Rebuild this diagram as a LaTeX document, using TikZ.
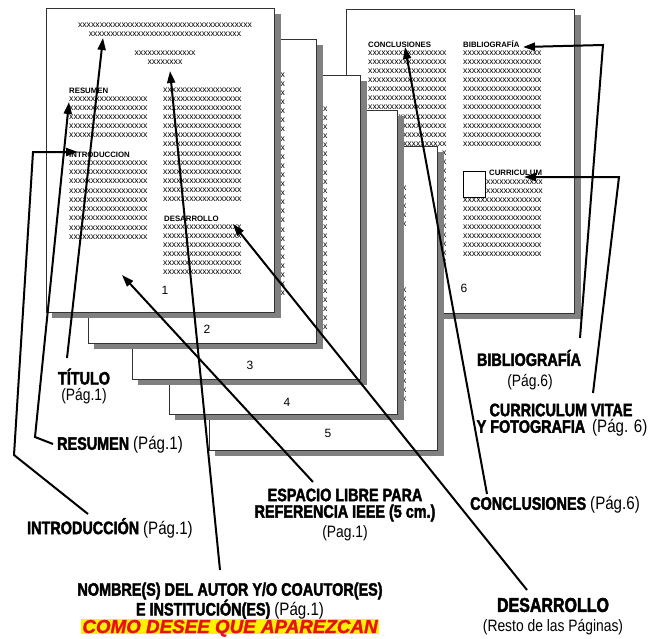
\documentclass[tikz,border=0pt]{standalone}
\usepackage{fontspec}
\setmainfont{Liberation Sans}
\newfontfamily\condfont[FakeStretch=0.8,BoldFeatures={FakeBold=2.2}]{Liberation Sans}
\newfontfamily\regfont[FakeStretch=0.84]{Liberation Sans}
\newfontfamily\comofont[BoldItalicFeatures={FakeBold=1.5}]{Liberation Sans}
\usetikzlibrary{arrows.meta}
\def\xs#1{\ifnum#1>0 x\expandafter\xs\expandafter{\the\numexpr#1-1\relax}\fi}
\definecolor{labred}{HTML}{E8101A}
\newcommand\pg[1]{{\regfont\mdseries #1}}
\begin{document}
\begin{tikzpicture}[x=1pt,y=-1pt,
  pagebox/.style={draw=black!80,line width=0.8pt,fill=white,minimum width=228pt,minimum height=304pt,anchor=north west,inner sep=0pt,outer sep=0pt},
  pshade/.style={fill=black!50,draw=none},
  xt/.style={font=\fontsize{8.7}{9}\selectfont,inner sep=0pt,anchor=west},
  xtc/.style={font=\fontsize{8.7}{9}\selectfont,inner sep=0pt},
  hd/.style={font=\fontsize{7.8}{9}\selectfont\bfseries,inner sep=0pt,anchor=base west},
  pnum/.style={font=\fontsize{12}{14}\selectfont,inner sep=0pt},
  lbl/.style={font=\condfont\fontsize{18}{20}\selectfont\bfseries,inner sep=0pt},
  lreg/.style={font=\regfont\fontsize{16.5}{18}\selectfont,inner sep=0pt},
  arr/.style={line width=2pt,-{Triangle[length=12pt,width=8pt]}},
]
\fill[white] (0,0) rectangle (655,638);
\useasboundingbox (0,0) rectangle (655,638);

% ---------- page 6 ----------
\fill[pshade] (352,15) rectangle (581,319);
\node[pagebox] (p6) at (346,9) {};
\node[hd] (h6a) at (368,47) {CONCLUSIONES};
\node[hd] (h6b) at (463,47) {BIBLIOGRAFÍA};
\foreach \i in {0,...,10} \node[xt] (cc\i) at (368,{53+9.1*\i}) {\xs{18}};
\foreach \i in {11,...,23} \node[xt] (cc\i) at (441.9,{53+9.1*\i}) {x};
\foreach \i in {0,...,10} \node[xt] (bb\i) at (463,{53+9.1*\i}) {\xs{18}};
\node[draw=black,line width=0.8pt,fill=white,minimum width=22pt,minimum height=26pt,inner sep=0pt,anchor=north west] (photo) at (463,171) {};
\node[hd] (h6c) at (489,175) {CURRICULUM};
\foreach \i in {0,1} \node[xt] (cs\i) at (486,{182+9.1*\i}) {\xs{13}};
\foreach \i in {0,...,6} \node[xt] (cv\i) at (463,{200+9.1*\i}) {\xs{18}};
\node[pnum] (n6) at (464,288) {6};

% ---------- page 5 ----------
\fill[pshade] (215,152) rectangle (444,456);
\node[pagebox] (p5) at (209,146) {};
\foreach \i in {0,...,4} \node[xt] (c5a\i) at (402,{188+9.1*\i}) {x};
\foreach \i in {0,...,12} \node[xt] (c5b\i) at (402,{290+9.1*\i}) {x};
\node[pnum] (n5) at (328,433) {5};

% ---------- page 4 ----------
\fill[pshade] (175,116) rectangle (404,420);
\node[pagebox] (p4) at (169,110) {};
\foreach \i in {0,...,26} \node[xt] (c4\i) at (361,{130+9.1*\i}) {x};
\node[pnum] (n4) at (287,402) {4};

% ---------- page 3 ----------
\fill[pshade] (138,81) rectangle (367,385);
\node[pagebox] (p3) at (132,75) {};
\foreach \i in {0,...,24} \node[xt] (c3\i) at (323,{109+9.1*\i}) {x};
\node[pnum] (n3) at (250,365) {3};

% ---------- page 2 ----------
\fill[pshade] (94,45) rectangle (323,349);
\node[pagebox] (p2) at (88,39) {};
\foreach \i in {0,...,24} \node[xt] (c2\i) at (280.5,{75+9.1*\i}) {x};
\node[pnum] (n2) at (207,329) {2};

% ---------- page 1 ----------
\fill[pshade] (52,14) rectangle (281,318);
\node[pagebox] (p1) at (46,8) {};
\node[xtc] (t1) at (165,25) {\xs{40}};
\node[xtc] (t2) at (165,34) {\xs{35}};
\node[xtc] (a1) at (165,53) {\xs{14}};
\node[xtc] (a2) at (165,62) {\xs{8}};
\node[hd] (hres) at (69,93) {RESUMEN};
\foreach \i in {0,...,4} \node[xt] (r\i) at (69,{99+9*\i}) {\xs{18}};
\node[hd] (hint) at (69,157) {INTRODUCCION};
\foreach \i in {0,...,8} \node[xt] (in\i) at (69,{163+9.25*\i}) {\xs{18}};
\foreach \i in {0,...,12} \node[xt] (rc\i) at (163,{90+9.1*\i}) {\xs{18}};
\node[hd] (hdes) at (164,221) {DESARROLLO};
\foreach \i in {0,...,5} \node[xt] (d\i) at (163,{227+9.1*\i}) {\xs{18}};
\node[pnum] (n1) at (165,290) {1};

% ---------- labels ----------
\node[lbl,text depth=0pt,anchor=base] (ltit) at (84,384.5) {TÍTULO};
\node[lreg] (ltitp) at (84,396) {(Pág.1)};
\node[lbl,anchor=west] (lres) at (57,445) {RESUMEN \pg{(Pág.1)}};
\node[lbl,anchor=west] (lint) at (27,528) {INTRODUCCIÓN \pg{(Pág.1)}};
\node[lbl] (lesp1) at (345,495) {ESPACIO LIBRE PARA};
\node[lbl] (lesp2) at (345,513) {REFERENCIA IEEE (5 cm.)};
\node[lreg] (lesp3) at (345,533) {(Pag.1)};
\node[lbl,anchor=west] (lcon) at (470,505) {CONCLUSIONES \pg{(Pág.6)}};
\node[lbl] (lnom1) at (230,591) {NOMBRE(S) DEL AUTOR Y/O COAUTOR(ES)};
\node[lbl,text depth=0pt,anchor=base] (lnom2) at (230,615.5) {E INSTITUCIÓN(ES) \pg{(Pág.1)}};
\node[font=\comofont\fontsize{18.8}{20}\selectfont\bfseries\itshape,text=labred,fill=yellow,inner xsep=1.5pt,inner ysep=0.6pt,text depth=0pt,anchor=base] (lcomo) at (230,633) {COMO DESEE QUE APAREZCAN};
\node[lbl,font=\condfont\fontsize{20}{22}\selectfont\bfseries] (ldes) at (553,605) {DESARROLLO};
\node[lreg] (ldesp) at (553,627) {(Resto de las Páginas)};
\node[lbl] (lbib) at (529,358) {BIBLIOGRAFÍA};
\node[lreg] (lbibp) at (530,382) {(Pág.6)};
\node[lbl] (lcur1) at (561,410) {CURRICULUM VITAE};
\node[lbl] (lcur2) at (562,428) {Y FOTOGRAFIA \pg{\,(Pág. 6)}};

% ---------- connector points ----------
\coordinate (sTit) at (67,358);   \coordinate (eTit) at (103,38);
\coordinate (sRes) at (53,444);   \coordinate (kRes) at (35,437);  \coordinate (eRes) at (69,102);
\coordinate (sInt) at (88,514);   \coordinate (kInt1) at (14,455); \coordinate (kInt2) at (33,152); \coordinate (eInt) at (78,152);
\coordinate (sNom) at (220,570);  \coordinate (eNom) at (170,71);
\coordinate (sEsp) at (313,482);  \coordinate (eEsp) at (122,275);
\coordinate (sDes) at (527,590);  \coordinate (eDes) at (233,224);
\coordinate (sCon) at (487,494);  \coordinate (eCon) at (405,47);
\coordinate (sBib) at (580,338);  \coordinate (kBib) at (603,45);  \coordinate (eBib) at (523,47);
\coordinate (sCur) at (593,393);  \coordinate (kCur) at (619,177); \coordinate (eCur) at (524,177);

\draw[arr] (sTit) -- (eTit);
\draw[arr] (sRes) -- (kRes) -- (eRes);
\draw[arr] (sInt) -- (kInt1) -- (kInt2) -- (eInt);
\draw[arr] (sNom) -- (eNom);
\draw[arr] (sEsp) -- (eEsp);
\draw[arr] (sDes) -- (eDes);
\draw[arr] (sCon) -- (eCon);
\draw[arr] (sBib) -- (kBib) -- (eBib);
\draw[arr] (sCur) -- (kCur) -- (eCur);
\end{tikzpicture}
\end{document}
